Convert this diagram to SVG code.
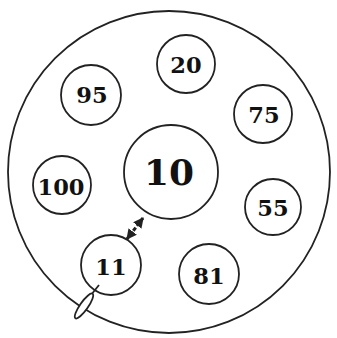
<svg xmlns="http://www.w3.org/2000/svg" width="337" height="338" viewBox="0 0 337 338">
<style>
.c{fill:none;stroke:#222;stroke-width:1.8}
.t{font-family:"DejaVu Serif","Liberation Serif",serif;font-weight:bold;font-size:22.5px;fill:#111;text-anchor:middle}
.big{font-size:36px}
</style>
<defs>
<marker id="ah" viewBox="0 0 10 10" refX="9" refY="5" markerWidth="3.5" markerHeight="3.5" orient="auto-start-reverse">
<path d="M0,0 L10,5 L0,10 z" fill="#222"/>
</marker>
</defs>
<rect width="337" height="338" fill="#fff"/>
<g id="outer"><circle class="c" cx="169" cy="172" r="161"/></g>
<g id="n20"><circle class="c" cx="186" cy="64" r="29"/><text class="t" x="186" y="73">20</text></g>
<g id="n95"><circle class="c" cx="91" cy="95" r="30"/><text class="t" x="92" y="103">95</text></g>
<g id="n75"><circle class="c" cx="263" cy="114" r="29"/><text class="t" x="264" y="123">75</text></g>
<g id="n10"><circle class="c" cx="171" cy="172" r="47"/><text class="t big" x="169" y="185">10</text></g>
<g id="n100"><circle class="c" cx="62" cy="185" r="29"/><text class="t" x="61" y="195">100</text></g>
<g id="n55"><circle class="c" cx="273" cy="207" r="28"/><text class="t" x="273" y="216">55</text></g>
<g id="n11"><circle class="c" cx="111" cy="265" r="30"/><text class="t" x="111" y="275">11</text></g>
<g id="n81"><circle class="c" cx="209" cy="274" r="30"/><text class="t" x="209" y="284">81</text></g>
<g id="connectors">
<line x1="143" y1="218" x2="127" y2="239" stroke="#222" stroke-width="3" stroke-dasharray="4,2" marker-start="url(#ah)" marker-end="url(#ah)"/>
<line x1="91" y1="295" x2="99" y2="285" stroke="#222" stroke-width="1.8"/>
</g>
<g id="pin">
<ellipse cx="84" cy="306" rx="15" ry="4" transform="rotate(-55 84 306)" fill="#fff" stroke="#222" stroke-width="1.8"/>
</g>
</svg>
